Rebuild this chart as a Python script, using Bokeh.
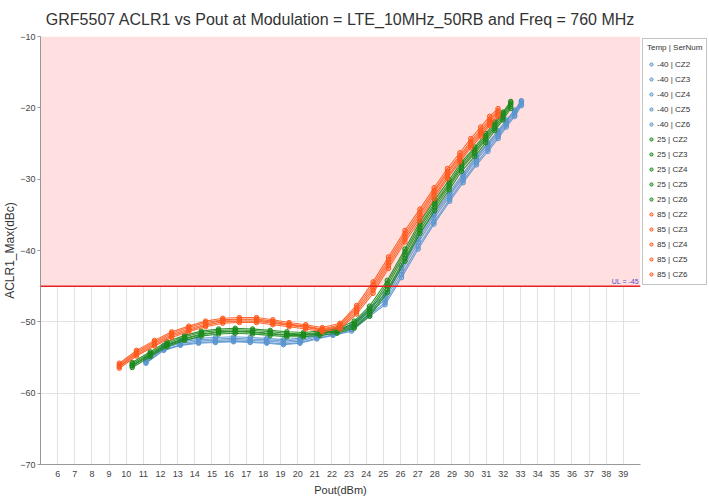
from bokeh.plotting import figure
from bokeh.models import Legend, LegendItem, BoxAnnotation, Span, Label, FixedTicker, Range1d
from bokeh.embed import file_html
from bokeh.resources import INLINE

title_text = "GRF5507 ACLR1 vs Pout at Modulation = LTE_10MHz_50RB and Freq = 760 MHz"
x_ticks = list(range(6, 40))
y_ticks = [-70, -60, -50, -40, -30, -20, -10]
limit_ul = -45

temps = ["-40", "25", "85"]
serials = ["CZ2", "CZ3", "CZ4", "CZ5", "CZ6"]

x_m40 = [11.15, 12.19, 13.16, 14.22, 15.2, 16.26, 17.23, 18.2, 19.17, 20.14, 21.12, 22.06, 23.15,
         24.2, 25.1, 26.06, 27.03, 27.95, 28.87, 29.65, 30.43, 31.1, 31.7, 32.17, 32.66, 33.05]
x_25 = [10.35, 11.4, 12.38, 13.41, 14.38, 15.39, 16.36, 17.37, 18.4, 19.37, 20.34, 21.3, 22.3,
        23.3, 24.2, 25.23, 26.26, 27.13, 28.0, 28.84, 29.56, 30.33, 30.97, 31.5, 31.98, 32.43]
x_85 = [9.6, 10.6, 11.65, 12.65, 13.65, 14.63, 15.63, 16.6, 17.6, 18.55, 19.5, 20.47, 21.44,
        22.47, 23.44, 24.4, 25.3, 26.26, 27.13, 27.96, 28.74, 29.46, 30.1, 30.68, 31.2, 31.69]

y_m40_cz2 = [-55.5, -53.7, -53.0, -52.7, -52.6, -52.5, -52.6, -52.7, -52.9, -52.7, -52.1, -51.6, -50.9, -48.7, -46.9, -42.9, -38.9, -35.5, -32.4, -29.8, -27.3, -25.4, -23.7, -22.1, -20.7, -19.3]
y_m40_cz3 = [-55.1, -53.3, -52.6, -52.3, -52.2, -52.1, -52.2, -52.3, -52.5, -52.3, -51.7, -51.2, -50.4, -48.1, -46.1, -42.1, -38.1, -34.8, -31.8, -29.2, -26.8, -24.9, -23.2, -21.7, -20.3, -19.0]
y_m40_cz4 = [-55.8, -54.0, -53.3, -53.0, -52.9, -52.8, -52.9, -53.0, -53.2, -53.0, -52.4, -51.9, -51.3, -49.2, -47.6, -43.8, -39.8, -36.3, -33.1, -30.5, -28.0, -26.1, -24.3, -22.7, -21.2, -19.7]
y_m40_cz5 = [-55.3, -53.5, -52.8, -52.5, -52.4, -52.3, -52.4, -52.5, -52.7, -52.5, -51.9, -51.4, -50.7, -48.4, -46.5, -42.5, -38.5, -35.1, -32.1, -29.5, -27.0, -25.1, -23.4, -21.9, -20.5, -19.1]
y_m40_cz6 = [-55.7, -53.9, -53.2, -52.9, -52.8, -52.7, -52.8, -52.9, -53.1, -52.9, -52.3, -51.8, -51.1, -49.0, -47.3, -43.4, -39.4, -36.0, -32.8, -30.2, -27.7, -25.8, -24.0, -22.4, -21.0, -19.5]

y_25_cz2 = [-56.1, -54.6, -53.2, -52.3, -51.7, -51.4, -51.3, -51.4, -51.6, -51.8, -51.8, -51.6, -51.3, -50.4, -48.5, -45.0, -40.6, -36.8, -33.6, -30.8, -28.2, -26.1, -24.2, -22.6, -21.1, -19.5]
y_25_cz3 = [-55.7, -54.2, -52.8, -51.9, -51.3, -51.0, -50.9, -51.0, -51.2, -51.4, -51.5, -51.3, -51.0, -49.9, -47.8, -44.2, -39.8, -36.0, -32.9, -30.1, -27.6, -25.5, -23.6, -22.0, -20.6, -19.1]
y_25_cz4 = [-56.4, -54.9, -53.5, -52.6, -52.0, -51.7, -51.6, -51.7, -51.9, -52.1, -52.1, -51.9, -51.6, -50.9, -49.2, -45.9, -41.5, -37.6, -34.4, -31.5, -28.9, -26.8, -24.9, -23.2, -21.7, -20.1]
y_25_cz5 = [-55.9, -54.4, -53.0, -52.1, -51.5, -51.2, -51.1, -51.2, -51.4, -51.6, -51.7, -51.5, -51.2, -50.2, -48.2, -44.6, -40.2, -36.4, -33.3, -30.5, -27.9, -25.8, -23.9, -22.3, -20.8, -19.3]
y_25_cz6 = [-56.2, -54.7, -53.3, -52.4, -51.8, -51.5, -51.4, -51.5, -51.7, -51.9, -51.9, -51.7, -51.4, -50.7, -48.9, -45.5, -41.1, -37.2, -34.0, -31.1, -28.5, -26.4, -24.5, -22.9, -21.4, -19.8]

y_85_cz2 = [-56.2, -54.4, -53.0, -51.8, -51.0, -50.3, -49.8, -49.7, -49.7, -50.1, -50.4, -50.7, -51.1, -50.6, -48.3, -45.2, -41.7, -38.0, -35.0, -31.9, -29.2, -27.0, -25.0, -23.4, -21.9, -20.6]
y_85_cz3 = [-55.8, -54.0, -52.6, -51.4, -50.6, -49.9, -49.5, -49.4, -49.4, -49.7, -50.1, -50.4, -50.8, -50.2, -47.7, -44.4, -40.9, -37.2, -34.2, -31.2, -28.5, -26.3, -24.3, -22.7, -21.2, -20.1]
y_85_cz4 = [-56.5, -54.8, -53.4, -52.2, -51.4, -50.7, -50.2, -50.1, -50.1, -50.4, -50.7, -51.0, -51.4, -51.0, -48.9, -46.0, -42.5, -38.8, -35.8, -32.7, -29.9, -27.6, -25.6, -24.0, -22.5, -21.2]
y_85_cz5 = [-56.0, -54.2, -52.8, -51.6, -50.8, -50.1, -49.7, -49.6, -49.6, -49.9, -50.3, -50.6, -51.0, -50.4, -48.0, -44.8, -41.3, -37.6, -34.6, -31.6, -28.9, -26.7, -24.7, -23.1, -21.6, -20.4]
y_85_cz6 = [-56.3, -54.6, -53.2, -52.0, -51.2, -50.5, -50.0, -49.9, -49.9, -50.2, -50.5, -50.8, -51.2, -50.8, -48.6, -45.6, -42.1, -38.4, -35.4, -32.3, -29.6, -27.3, -25.3, -23.7, -22.2, -20.9]

x_by_temp = {"-40": x_m40, "25": x_25, "85": x_85}
y_by_series = {
    "-40": [y_m40_cz2, y_m40_cz3, y_m40_cz4, y_m40_cz5, y_m40_cz6],
    "25": [y_25_cz2, y_25_cz3, y_25_cz4, y_25_cz5, y_25_cz6],
    "85": [y_85_cz2, y_85_cz3, y_85_cz4, y_85_cz5, y_85_cz6],
}
colors = {"-40": "#5b95cf", "25": "#1c8a1c", "85": "#ff5a1e"}

FONT = "Liberation Sans"

p = figure(frame_width=600, frame_height=428,
           x_range=Range1d(5, 40), y_range=Range1d(-70, -10),
           output_backend="svg", toolbar_location=None,
           min_border_left=33, min_border_top=29, min_border_bottom=30, min_border_right=2,
           background_fill_color="white", border_fill_color="white")
p.outline_line_color = None

p.title.text = title_text
p.title.align = "center"
p.title.text_font = FONT
p.title.text_font_size = "16px"
p.title.text_font_style = "normal"
p.title.text_color = "#333333"
p.title.offset = 10
p.title.standoff = 17

p.add_layout(BoxAnnotation(bottom=limit_ul, fill_color="#ffdfdf", fill_alpha=1.0, line_color=None, level="underlay"))

p.xaxis.ticker = FixedTicker(ticks=x_ticks)
p.yaxis.ticker = FixedTicker(ticks=y_ticks)
p.xgrid.grid_line_color = "#e2e2e2"
p.ygrid.grid_line_color = "#e2e2e2"
p.xgrid.level = "underlay"
p.ygrid.level = "underlay"
for ax in (p.xaxis, p.yaxis):
    ax.axis_line_color = "#999999"
    ax.major_tick_line_color = "#999999"
    ax.minor_tick_line_color = None
    ax.major_tick_in = 0
    ax.major_label_text_font = FONT
    ax.major_label_text_font_size = "9px"
    ax.major_label_text_color = "#444444"
    ax.axis_label_text_font = FONT
    ax.axis_label_text_font_style = "normal"
    ax.axis_label_text_color = "#333333"
p.xaxis.major_tick_out = 0
p.yaxis.major_tick_out = 3
p.xaxis.major_label_standoff = 6
p.yaxis.major_label_standoff = 2
p.xaxis.axis_label = "Pout(dBm)"
p.yaxis.axis_label = "ACLR1_Max(dBc)"
p.xaxis.axis_label_text_font_size = "11px"
p.yaxis.axis_label_text_font_size = "12px"
p.xaxis.axis_label_standoff = 4
p.yaxis.axis_label_standoff = 0

p.add_layout(Span(location=limit_ul, dimension="width", line_color="#e8231f", line_width=1.5))
p.add_layout(Label(x=39.9, y=limit_ul, text="UL = -45", text_font=FONT, text_font_size="7px",
                   text_color="#5050c8", text_align="right", text_baseline="bottom", y_offset=1))

items = []
for t in temps:
    xs = x_by_temp[t]
    for s, ys in zip(serials, y_by_series[t]):
        c = colors[t]
        p.line(xs, ys, line_color=c, line_width=1.1, line_alpha=0.9)
        r = p.scatter(xs, ys, marker="circle", size=4.5, fill_color=c, line_color=c,
                      fill_alpha=0.4, line_width=1)
        items.append(LegendItem(label=f"{t} | {s}", renderers=[r]))

legend = Legend(items=items, title="Temp | SerNum", location="top_left")
legend.title_text_font = FONT
legend.title_text_font_size = "8px"
legend.title_text_font_style = "normal"
legend.title_text_color = "#333333"
legend.title_standoff = 6
legend.label_text_font = FONT
legend.label_text_font_size = "8px"
legend.label_text_color = "#333333"
legend.label_height = 12
legend.glyph_height = 12
legend.glyph_width = 8
legend.label_standoff = 2
legend.spacing = 3
legend.padding = 4
legend.margin = 2
legend.border_line_color = "#888888"
legend.border_line_width = 1
p.add_layout(legend, "right")

open("out.html", "w").write(file_html(p, INLINE))
